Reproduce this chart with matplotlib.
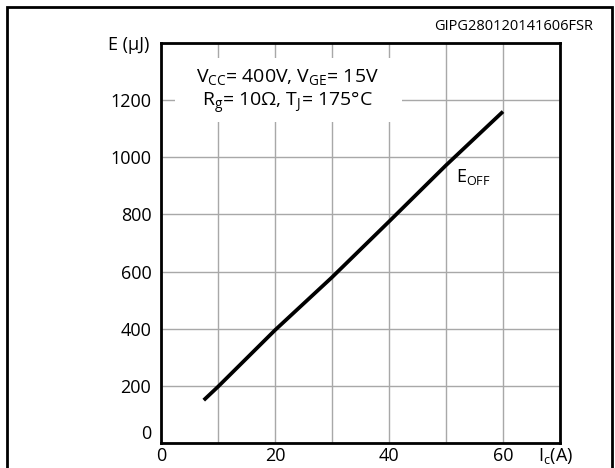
import numpy as np
import matplotlib as mpl
mpl.use('Agg')
import matplotlib.pyplot as plt
from matplotlib.patches import Rectangle

plt.rcParams['font.family'] = ['Open Sans', 'DejaVu Sans']
plt.rcParams['mathtext.fontset'] = 'custom'
plt.rcParams['mathtext.rm'] = 'Open Sans'
plt.rcParams['mathtext.it'] = 'Open Sans'

# curve
ic = [7.5, 10, 20, 30, 40, 50, 60]
eoff = [150, 197, 395, 580, 775, 972, 1160]

xticks = [0, 10, 20, 30, 40, 50, 60, 70]
xlabels = ['0', '', '20', '', '40', '', '60', '']
yticks = [0, 200, 400, 600, 800, 1000, 1200, 1400]
ylabels = ['0', '200', '400', '600', '800', '1000', '1200', '']

W, H = 615, 468
fig = plt.figure(figsize=(6.15, 4.68), dpi=100)
ax = fig.add_axes([161 / W, 1 - 443 / H, (560 - 161) / W, (443 - 43) / H])

ax.plot(ic, eoff, color='black', lw=2.7, solid_capstyle='butt', solid_joinstyle='round', zorder=4)

ax.set_xlim(0, 70)
ax.set_ylim(0, 1400)
ax.set_xticks(xticks, xlabels)
ax.set_yticks(yticks, ylabels)
ax.tick_params(length=0, labelsize=13, pad=3)
ax.tick_params(axis='y', pad=7)
ax.get_yticklabels()[0].set_va('bottom')
ax.grid(True, color='#a8a8a8', lw=1.0)
ax.set_axisbelow(True)
for s in ax.spines.values():
    s.set_linewidth(2.0)

# white panel behind the test conditions
ax.add_patch(Rectangle((14 / 399, (443 - 122) / 400), (402 - 175) / 399, 64 / 400,
                       transform=ax.transAxes, facecolor='white', edgecolor='none', zorder=2))
ax.text(22.2, 1282, r'V$_{\mathrm{CC}}$= 400V, V$_{\mathrm{GE}}$= 15V', ha='center', va='center',
        fontsize=14, zorder=5)
ax.text(22.2, 1192, r'R$_{\mathrm{g}}$= 10$\Omega$, T$_{\mathrm{J}}$= 175°C', ha='center', va='center',
        fontsize=14, zorder=5)
ax.text(51.8, 930, r'E$_{\mathrm{OFF}}$', ha='left', va='center', fontsize=13, zorder=5)

fig.text(149 / W, 1 - 45 / H, 'E (µJ)', ha='right', va='center', fontsize=13)
fig.text(538 / W, 1 - 456 / H, r'I$_{\mathrm{c}}$(A)', ha='left', va='center', fontsize=13)
fig.text(593 / W, 1 - 26 / H, 'GIPG280120141606FSR', ha='right', va='center', fontsize=10.5)

# outer frame of the datasheet figure
fig.patches.append(Rectangle((6.7 / W, -0.1), (612 - 6.7) / W, 1.1 - 7 / H,
                             transform=fig.transFigure, fill=False, edgecolor='black', lw=2.0))

fig.savefig('out.png', dpi=100)
